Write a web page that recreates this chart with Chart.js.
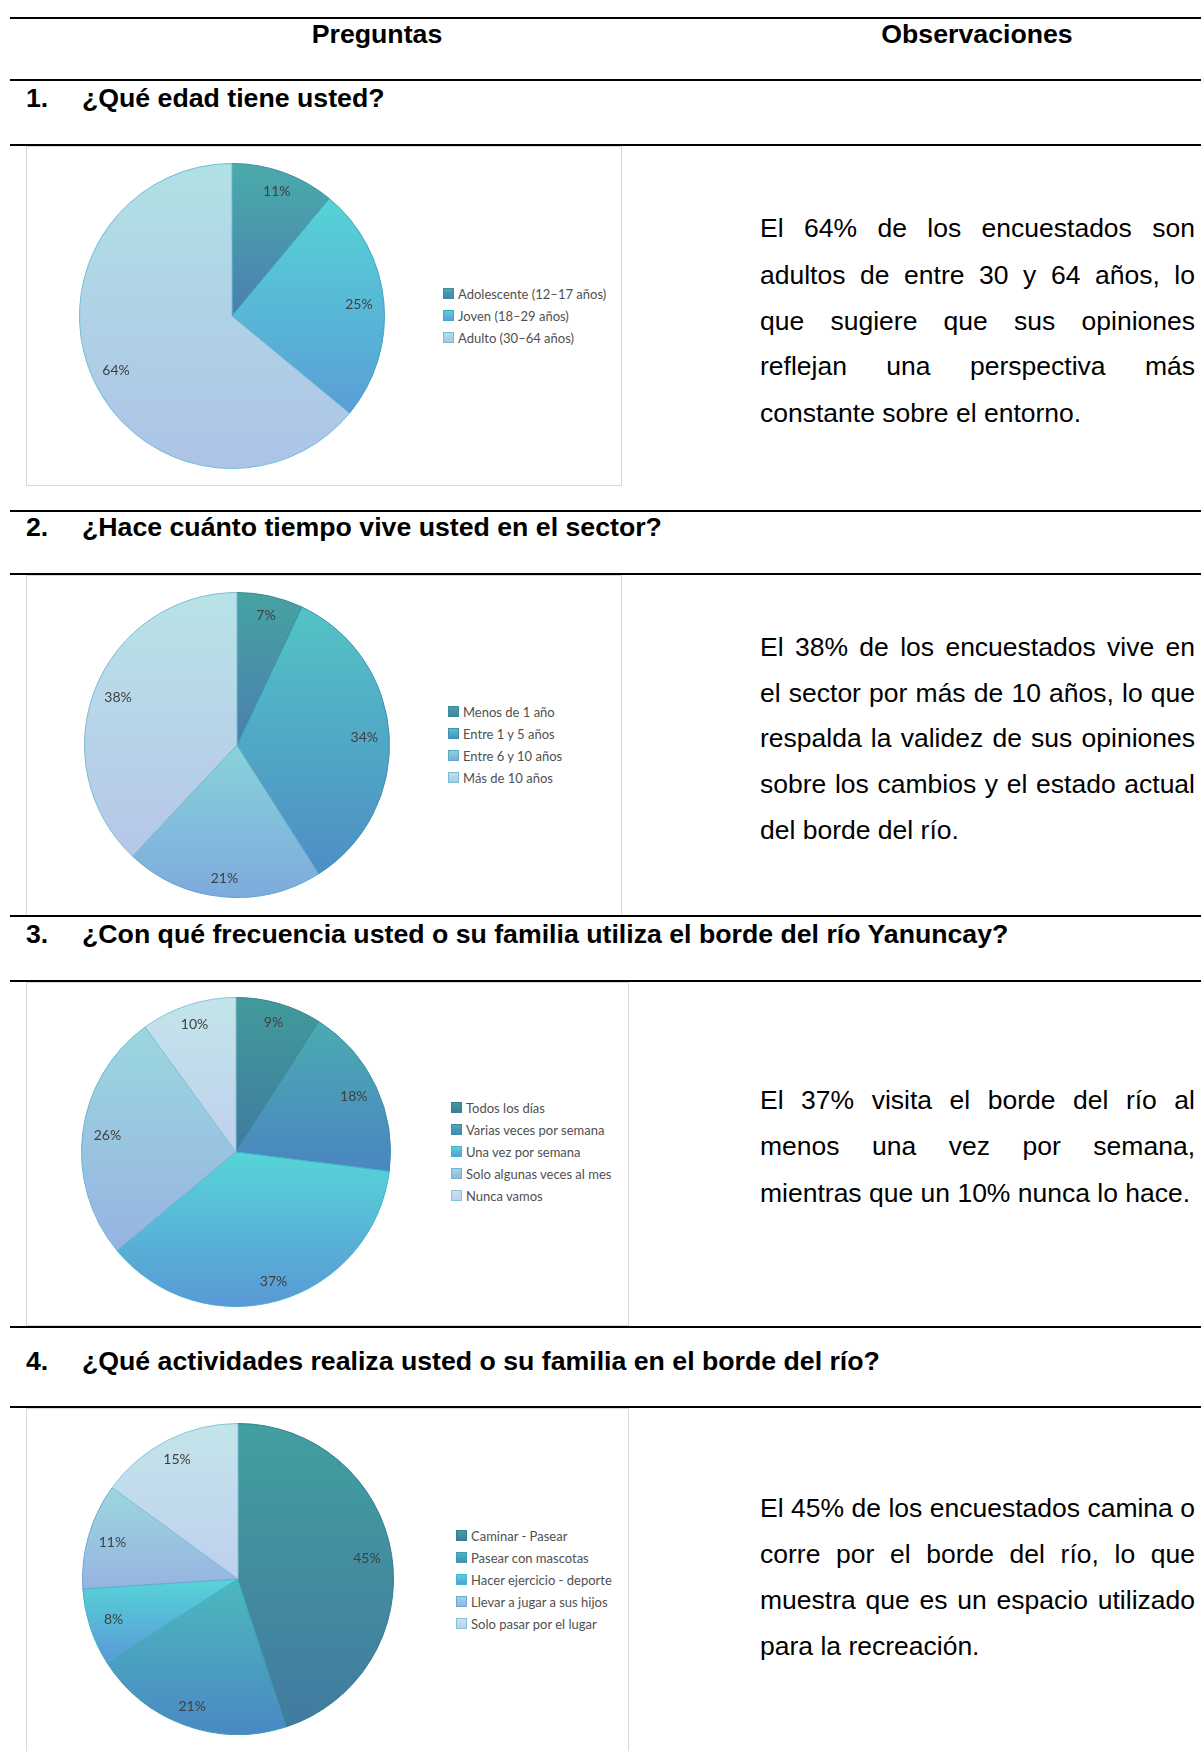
<!DOCTYPE html>
<html><head><meta charset="utf-8">
<script src="https://cdn.jsdelivr.net/npm/chart.js@4.4.1/dist/chart.umd.min.js"></script>
<style>
html,body{margin:0;padding:0;background:#fff;}
body{width:1201px;height:1751px;position:relative;overflow:hidden;font-family:"Liberation Sans",Arial,sans-serif;color:#000;}
.hl{position:absolute;left:10px;width:1191px;height:2px;background:#000;}
.hdr{position:absolute;font-weight:bold;font-size:26.7px;line-height:30px;white-space:nowrap;transform:translateX(-50%);}
.q{position:absolute;font-weight:bold;font-size:26.7px;line-height:30px;white-space:nowrap;}
.box{position:absolute;border:1px solid #d9d9d9;box-sizing:border-box;}
.pie{position:absolute;}
.leg{position:absolute;font-family:Lato,"Open Sans",sans-serif;font-size:13px;color:#505050;}
.li{position:absolute;left:0;white-space:nowrap;height:22px;line-height:22px;}
.sw{position:absolute;left:0;top:5px;width:11px;height:11px;box-sizing:border-box;border:1px solid;}
.lt{position:absolute;left:15px;top:0;}
.obs{position:absolute;left:760px;width:435px;font-size:26.5px;}
.ln{position:absolute;left:0;width:435px;height:46px;line-height:46px;text-align:justify;text-align-last:justify;}
.ln.last{text-align:left;text-align-last:left;}
</style>
</head>
<body>
<div class="hl" style="top:17px"></div>
<div class="hdr" style="left:377px;top:19px">Preguntas</div>
<div class="hdr" style="left:977px;top:19px">Observaciones</div>
<div class="hl" style="top:79px"></div>

<div class="q" style="left:26px;top:83px">1.</div>
<div class="q" style="left:82px;top:83px">¿Qué edad tiene usted?</div>
<div class="hl" style="top:144px"></div>
<div class="box" style="left:26px;top:146px;width:596px;height:340px"></div>
<canvas id="c1" class="pie"></canvas>
<div id="l1" class="leg"></div>
<div class="obs" style="top:0">
  <div class="ln" style="top:205px">El 64% de los encuestados son</div>
  <div class="ln" style="top:252px">adultos de entre 30 y 64 años, lo</div>
  <div class="ln" style="top:298px">que sugiere que sus opiniones</div>
  <div class="ln" style="top:343px">reflejan una perspectiva más</div>
  <div class="ln last" style="top:390px">constante sobre el entorno.</div>
</div>

<div class="hl" style="top:510px"></div>
<div class="q" style="left:26px;top:512px">2.</div>
<div class="q" style="left:82px;top:512px">¿Hace cuánto tiempo vive usted en el sector?</div>
<div class="hl" style="top:573px"></div>
<div class="box" style="left:26px;top:575px;width:596px;height:341px"></div>
<canvas id="c2" class="pie"></canvas>
<div id="l2" class="leg"></div>
<div class="obs" style="top:0">
  <div class="ln" style="top:624px">El 38% de los encuestados vive en</div>
  <div class="ln" style="top:670px">el sector por más de 10 años, lo que</div>
  <div class="ln" style="top:715px">respalda la validez de sus opiniones</div>
  <div class="ln" style="top:761px">sobre los cambios y el estado actual</div>
  <div class="ln last" style="top:807px">del borde del río.</div>
</div>

<div class="hl" style="top:915px"></div>
<div class="q" style="left:26px;top:919px">3.</div>
<div class="q" style="left:82px;top:919px">¿Con qué frecuencia usted o su familia utiliza el borde del río Yanuncay?</div>
<div class="hl" style="top:980px"></div>
<div class="box" style="left:26px;top:982px;width:603px;height:344px"></div>
<canvas id="c3" class="pie"></canvas>
<div id="l3" class="leg"></div>
<div class="obs" style="top:0">
  <div class="ln" style="top:1077px">El 37% visita el borde del río al</div>
  <div class="ln" style="top:1123px">menos una vez por semana,</div>
  <div class="ln last" style="top:1170px">mientras que un 10% nunca lo hace.</div>
</div>

<div class="hl" style="top:1326px"></div>
<div class="q" style="left:26px;top:1346px">4.</div>
<div class="q" style="left:82px;top:1346px">¿Qué actividades realiza usted o su familia en el borde del río?</div>
<div class="hl" style="top:1406px"></div>
<div class="box" style="left:26px;top:1408px;width:603px;height:360px"></div>
<canvas id="c4" class="pie"></canvas>
<div id="l4" class="leg"></div>
<div class="obs" style="top:0">
  <div class="ln" style="top:1485px">El 45% de los encuestados camina o</div>
  <div class="ln" style="top:1531px">corre por el borde del río, lo que</div>
  <div class="ln" style="top:1577px">muestra que es un espacio utilizado</div>
  <div class="ln last" style="top:1623px">para la recreación.</div>
</div>

<script>
// ---------- DATA ----------
const ageLabels = ['Adolescente (12–17 años)', 'Joven (18–29 años)', 'Adulto (30–64 años)'];
const ageValues = [11, 25, 64];

const timeLabels = ['Menos de 1 año', 'Entre 1 y 5 años', 'Entre 6 y 10 años', 'Más de 10 años'];
const timeValues = [7, 34, 21, 38];

const freqLabels = ['Todos los días', 'Varias veces por semana', 'Una vez por semana', 'Solo algunas veces al mes', 'Nunca vamos'];
const freqValues = [9, 18, 37, 26, 10];

const actLabels = ['Caminar - Pasear', 'Pasear con mascotas', 'Hacer ejercicio - deporte', 'Llevar a jugar a sus hijos', 'Solo pasar por el lugar'];
const actValues = [45, 21, 8, 11, 15];

// ---------- STYLES ----------
const styles = {
  c1: {top:['#4aabaa','#56d3d5','#b1e1e5'], bottom:['#4a7fb0','#5a9ed8','#aec3e7'], border:['#3d8ea0','#3fa6c4','#6fbdd6']},
  c2: {top:['#46a3a3','#53c3c5','#88d3da','#b9e3e7'], bottom:['#4a7fae','#4e8ec6','#7eaadd','#b6c6e9'], border:['#3a8a98','#3a94b0','#5fa8cc','#79bcd6']},
  c3: {top:['#419b9b','#4aabb1','#56d5d7','#9bd7df','#c3e5ea'], bottom:['#3f7aa0','#4a86c0','#5a98d6','#97b3e1','#bfd0ee'], border:['#35808e','#3a8fa8','#42b4cc','#6fb4d2','#86c4da']},
  c4: {top:['#429f9f','#4cb9bd','#56d5d7','#9bd7df','#c3e5ea'], bottom:['#427aa0','#4a88c4','#5a98d8','#97b3e1','#bfd0ee'], border:['#357e8c','#3b9cae','#42b4cc','#6fa8d6','#86c4da']}
};
// geometry: pie centre / radius, legend anchor
const geo = {
  c1: {cx:232, cy:316, r:152, lx:443, ly:294},
  c2: {cx:237, cy:745, r:152, lx:448, ly:712},
  c3: {cx:236, cy:1152, r:154, lx:451, ly:1108},
  c4: {cx:238, cy:1579, r:155, lx:456, ly:1536}
};

const piePlugin = {
  id: 'excelPie',
  beforeDatasetsDraw(chart, args, opts) {
    const ctx = chart.ctx;
    const meta = chart.getDatasetMeta(0);
    meta.data.forEach((arc, i) => {
      const p = arc.getProps(['x','y','startAngle','endAngle','outerRadius'], true);
      const ys = [p.y, p.y + p.outerRadius*Math.sin(p.startAngle), p.y + p.outerRadius*Math.sin(p.endAngle)];
      [-Math.PI/2, Math.PI/2, 3*Math.PI/2].forEach(a => { if (a >= p.startAngle && a <= p.endAngle) ys.push(p.y + p.outerRadius*Math.sin(a)); });
      const y0 = Math.min(...ys), y1 = Math.max(...ys);
      const g = ctx.createLinearGradient(0, y0, 0, y1 + 0.01);
      g.addColorStop(0, opts.top[i]);
      g.addColorStop(1, opts.bottom[i]);
      arc.options.backgroundColor = g;
    });
  },
  afterDatasetsDraw(chart, args, opts) {
    const ctx = chart.ctx;
    const meta = chart.getDatasetMeta(0);
    const vals = chart.data.datasets[0].data;
    ctx.save();
    ctx.font = '14px Lato, "Open Sans", sans-serif';
    ctx.fillStyle = '#404040';
    ctx.textAlign = 'center';
    ctx.textBaseline = 'middle';
    meta.data.forEach((arc, i) => {
      const p = arc.getProps(['x','y','startAngle','endAngle','outerRadius'], true);
      const mid = (p.startAngle + p.endAngle) / 2;
      const dx = Math.cos(mid), dy = Math.sin(mid);
      const d = p.outerRadius - 18 - 7*Math.abs(dx);
      ctx.fillText(vals[i] + '%', p.x + d*dx, p.y + d*dy);
    });
    ctx.restore();
  }
};

function makePie(id, labels, values, legendId) {
  const g = geo[id], st = styles[id];
  const cv = document.getElementById(id);
  const S = 2*g.r + 2;
  cv.width = S; cv.height = S;
  cv.style.left = (g.cx - g.r - 1) + 'px';
  cv.style.top = (g.cy - g.r - 1) + 'px';
  new Chart(cv, {
    type: 'pie',
    data: { labels: labels, datasets: [{ data: values,
      backgroundColor: (c) => st.top[c.dataIndex],
      borderColor: (c) => st.border[c.dataIndex],
      borderWidth: 1 }] },
    options: {
      responsive: false, animation: false, devicePixelRatio: 1,
      layout: { padding: 0 },
      events: [],
      plugins: { legend: { display: false }, tooltip: { enabled: false },
        excelPie: st }
    },
    plugins: [piePlugin]
  });
  const lg = document.getElementById(legendId);
  lg.style.left = g.lx + 'px';
  lg.style.top = (g.ly - 11) + 'px';
  labels.forEach((lab, i) => {
    const it = document.createElement('div');
    it.className = 'li';
    it.style.top = (i*22) + 'px';
    const sw = document.createElement('span');
    sw.className = 'sw';
    sw.style.background = 'linear-gradient(' + st.top[i] + ',' + st.bottom[i] + ')';
    sw.style.borderColor = st.border[i];
    const tx = document.createElement('span');
    tx.className = 'lt';
    tx.textContent = lab;
    it.appendChild(sw); it.appendChild(tx);
    lg.appendChild(it);
  });
}

makePie('c1', ageLabels, ageValues, 'l1');
makePie('c2', timeLabels, timeValues, 'l2');
makePie('c3', freqLabels, freqValues, 'l3');
makePie('c4', actLabels, actValues, 'l4');
</script>
</body></html>
